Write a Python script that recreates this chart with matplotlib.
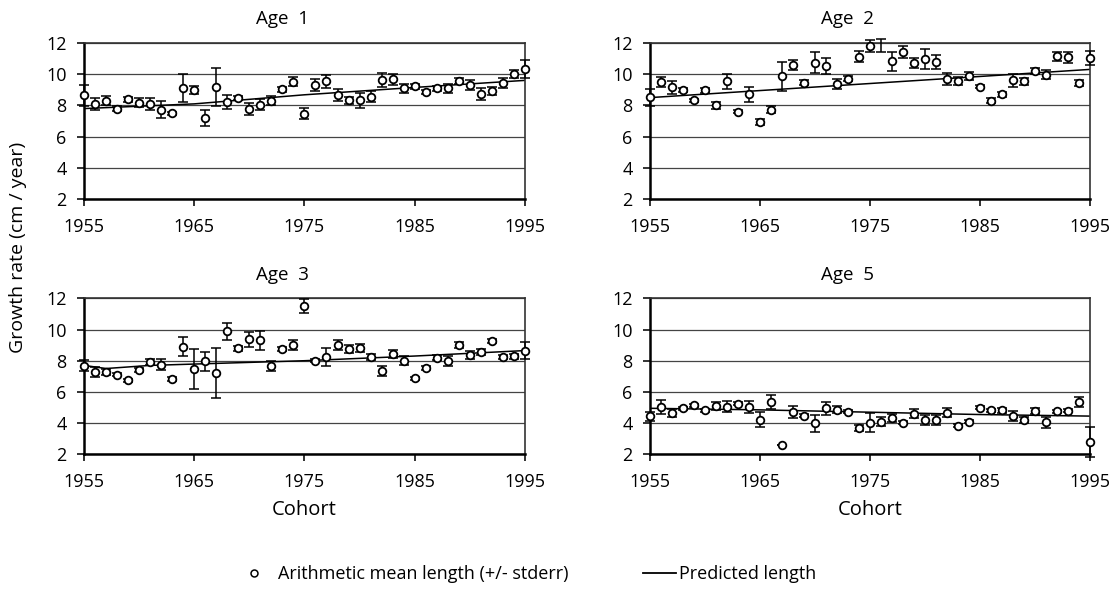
import matplotlib.pyplot as plt
from matplotlib.lines import Line2D
import numpy as np

plt.rcParams['font.family'] = ['Open Sans', 'DejaVu Sans']

years = np.arange(1955, 1996)

age1_mean = [8.66, 8.10, 8.30, 7.80, 8.40, 8.17, 8.10, 7.74, 7.49, 9.10, 8.96, 7.19, 9.19, 8.20,
             8.47, 7.77, 8.04, 8.30, 9.04, 9.51, 7.46, 9.32, 9.53, 8.68, 8.32, 8.32, 8.57, 9.60,
             9.66, 9.09, 9.21, 8.85, 9.09, 9.09, 9.57, 9.30, 8.74, 8.91, 9.43, 10.00, 10.32]
age1_err = [0.67, 0.4, 0.3, 0.15, 0.15, 0.3, 0.4, 0.53, 0.1, 0.88, 0.25, 0.53, 1.2, 0.45,
            0.15, 0.4, 0.35, 0.3, 0.15, 0.3, 0.35, 0.4, 0.4, 0.4, 0.2, 0.5, 0.35, 0.45,
            0.35, 0.3, 0.15, 0.15, 0.15, 0.3, 0.2, 0.3, 0.4, 0.25, 0.3, 0.25, 0.55]

age2_mean = [8.51, 9.49, 9.15, 8.98, 8.34, 8.96, 8.00, 9.53, 7.60, 8.70, 6.94, 7.74, 9.85, 10.57,
             9.45, 10.74, 10.51, 9.36, 9.72, 11.12, 11.80, 11.82, 10.83, 11.40, 10.72, 10.98, 10.77, 9.68,
             9.57, 9.87, 9.19, 8.30, 8.72, 9.60, 9.53, 10.21, 9.96, 11.13, 11.09, 9.43, 11.02]
age2_err = [0.53, 0.3, 0.4, 0.15, 0.1, 0.15, 0.2, 0.45, 0.1, 0.45, 0.2, 0.2, 0.93, 0.3,
            0.15, 0.67, 0.5, 0.3, 0.15, 0.35, 0.4, 0.4, 0.6, 0.4, 0.3, 0.65, 0.45, 0.4,
            0.25, 0.25, 0.1, 0.15, 0.15, 0.4, 0.2, 0.2, 0.3, 0.3, 0.35, 0.2, 0.45]

age3_mean = [7.68, 7.28, 7.28, 7.11, 6.76, 7.40, 7.94, 7.75, 6.83, 8.90, 7.45, 7.96, 7.21, 9.90,
             8.80, 9.37, 9.31, 7.66, 8.75, 9.01, 11.49, 8.00, 8.24, 9.00, 8.73, 8.80, 8.26, 7.34,
             8.43, 8.00, 6.87, 7.53, 8.20, 7.98, 8.99, 8.37, 8.56, 9.26, 8.24, 8.28, 8.65]
age3_err = [0.35, 0.3, 0.2, 0.1, 0.1, 0.15, 0.2, 0.35, 0.1, 0.6, 1.27, 0.6, 1.62, 0.55,
            0.15, 0.5, 0.6, 0.3, 0.1, 0.3, 0.45, 0.1, 0.55, 0.3, 0.25, 0.25, 0.2, 0.35,
            0.25, 0.3, 0.1, 0.1, 0.15, 0.3, 0.2, 0.25, 0.2, 0.15, 0.15, 0.15, 0.53]

age5_mean = [4.43, 5.06, 4.64, 4.96, 5.13, 4.81, 5.09, 5.04, 5.23, 5.02, 4.23, 5.34, 2.62, 4.72,
             4.47, 4.00, 4.94, 4.87, 4.74, 3.68, 4.02, 4.09, 4.34, 4.02, 4.60, 4.19, 4.19, 4.68,
             3.83, 4.09, 5.00, 4.81, 4.81, 4.45, 4.21, 4.77, 4.04, 4.77, 4.79, 5.36, 2.79]
age5_err = [0.3, 0.45, 0.25, 0.1, 0.1, 0.1, 0.25, 0.35, 0.1, 0.4, 0.5, 0.45, 0.0, 0.4,
            0.1, 0.55, 0.4, 0.2, 0.1, 0.2, 0.6, 0.3, 0.25, 0.1, 0.3, 0.3, 0.3, 0.3,
            0.1, 0.1, 0.1, 0.1, 0.15, 0.3, 0.2, 0.2, 0.35, 0.1, 0.1, 0.3, 0.95]

# predicted length, read at a few cohorts
age1_pred_x = [1955, 1965, 1975, 1985, 1995]
age1_pred_y = [7.8, 8.1, 8.68, 9.15, 9.6]
age2_pred_x = [1955, 1975, 1995]
age2_pred_y = [8.5, 9.4, 10.3]
age3_pred_x = [1955, 1957, 1961, 1975, 1985, 1995]
age3_pred_y = [7.7, 7.5, 7.7, 8.0, 8.3, 8.65]
age5_pred_x = [1955, 1965, 1975, 1985, 1995]
age5_pred_y = [4.95, 4.85, 4.7, 4.55, 4.45]

# cohorts where only the error bar shows (no circle)
age2_no_marker = [1976]

panels = [
    ("Age  1", age1_mean, age1_err, age1_pred_x, age1_pred_y, []),
    ("Age  2", age2_mean, age2_err, age2_pred_x, age2_pred_y, age2_no_marker),
    ("Age  3", age3_mean, age3_err, age3_pred_x, age3_pred_y, []),
    ("Age  5", age5_mean, age5_err, age5_pred_x, age5_pred_y, []),
]

fig = plt.figure(figsize=(11.16, 5.97), dpi=100)
rects = [
    [0.0753, 0.666, 0.395, 0.2623],
    [0.5824, 0.666, 0.394, 0.2623],
    [0.0753, 0.239, 0.395, 0.2613],
    [0.5824, 0.239, 0.394, 0.2613],
]

for rect, (title, mean, err, px, py, nomark) in zip(rects, panels):
    ax = fig.add_axes(rect)
    mean = np.array(mean)
    err = np.array(err)
    ax.errorbar(years, mean, yerr=err, fmt='none', ecolor='black', elinewidth=1.1,
                capsize=3.3, capthick=1.1, zorder=3, clip_on=False)
    ax.plot(px, py, color='black', lw=1.1, zorder=2)
    show = ~np.isin(years, nomark)
    ax.plot(years[show], mean[show], 'o', ms=5.5, mfc='white', mec='black', mew=1.3,
            zorder=4, clip_on=False)
    ax.set_xlim(1955, 1995)
    ax.set_ylim(2, 12)
    ax.set_xticks([1955, 1965, 1975, 1985, 1995])
    ax.set_yticks([2, 4, 6, 8, 10, 12])
    ax.grid(axis='y', color='#444444', lw=0.9)
    ax.set_axisbelow(True)
    ax.tick_params(labelsize=13, length=5, width=1.3, color='#222222')
    ax.tick_params(axis='x', pad=8.5)
    ax.tick_params(axis='y', pad=7.5)
    for side in ['left', 'bottom']:
        ax.spines[side].set_linewidth(1.8)
    for side in ['top', 'right']:
        ax.spines[side].set_linewidth(1.2)
        ax.spines[side].set_color('#333333')
    ax.set_title(title, fontsize=13.5, pad=13.5, x=0.45)

fig.text(0.2727, 0.146, 'Cohort', ha='center', va='center', fontsize=14.5)
fig.text(0.7795, 0.146, 'Cohort', ha='center', va='center', fontsize=14.5)
fig.text(0.016, 0.585, 'Growth rate (cm / year)', rotation=90, ha='center', va='center', fontsize=14)

mean_handle = Line2D([], [], ls='none', marker='o', ms=5, mfc='white', mec='black', mew=1.1)
pred_handle = Line2D([], [], color='black', lw=1.3)
fig.legend([mean_handle], ['Arithmetic mean length (+/- stderr)'],
           loc='center left', bbox_to_anchor=(0.205, 0.038), frameon=False,
           fontsize=13, handlelength=1.0, handletextpad=0.8)
fig.legend([pred_handle], ['Predicted length'],
           loc='center left', bbox_to_anchor=(0.562, 0.038), frameon=False,
           fontsize=13, handlelength=1.8, handletextpad=0.15)

plt.savefig('out.png', dpi=100)
